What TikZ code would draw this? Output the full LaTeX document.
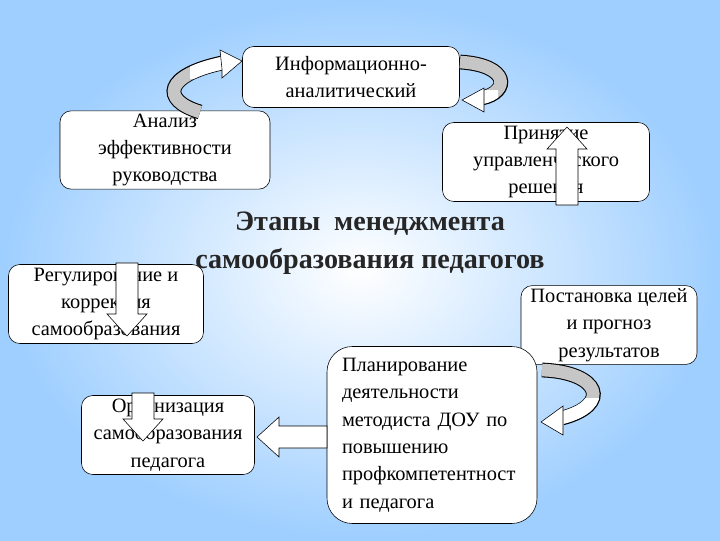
\documentclass[tikz,border=0pt]{standalone}
\usepackage{fontspec}
\setmainfont{Liberation Serif}
\tikzset{
  stage/.style={draw, rounded corners=8pt, fill=white, align=center, font=\fontsize{14.5}{19.5}\selectfont, inner sep=2pt},
  ribbon/.style={line width=9pt},
  ribbonedge/.style={line width=10.5pt, black}
}
% tail x, tail y, angle, length
\newcommand{\fatarrow}[4]{%
  \filldraw[fill=white, shift={(#1,#2)}, rotate=#3] (0,-11) -- (#4-22,-11) -- (#4-22,-20) -- (#4,0) -- (#4-22,20) -- (#4-22,11) -- (0,11) -- cycle;}
\begin{document}
\begin{tikzpicture}[x=0.025cm, y=-0.025cm]
\shade[inner color=white, outer color=cyan!50!blue!38] (0,0) rectangle (720,540);
\useasboundingbox (0,0) rectangle (720,540);

% stages
\node[stage, minimum width=217*0.025cm, minimum height=61*0.025cm] (info) at (351,77) {Информационно-\\аналитический};
\node[stage, minimum width=210*0.025cm, minimum height=75*0.025cm] (anal) at (165,150) {Анализ\\эффективности\\руководства};
\node[stage, minimum width=207*0.025cm, minimum height=79*0.025cm] (reshen) at (546,162) {Принятие\\управленческого\\решения};
\node[stage, minimum width=176*0.025cm, minimum height=78*0.025cm] (celi) at (609,325) {Постановка целей\\и прогноз\\результатов};
\node[stage, rounded corners=18pt, align=left, minimum width=210*0.025cm, minimum height=177*0.025cm, text width=180*0.025cm] (plan) at (432,435) {Планирование\\деятельности\\методиста ДОУ по\\повышению\\профкомпетентност\\и педагога};
\node[stage, minimum width=173*0.025cm, minimum height=79*0.025cm] (org) at (168,435) {Организация\\самообразования\\педагога};
\node[stage, minimum width=195*0.025cm, minimum height=79*0.025cm] (reg) at (106,304) {Регулирование и\\коррекция\\самообразования};

\node[font=\fontsize{20}{27}\selectfont\bfseries, align=center, text=black!85] (title) at (370,243) {Этапы \ менеджмента\\самообразования педагогов};

% block arrows
\fatarrow{127}{263}{-90}{73}
\fatarrow{143}{393}{-90}{48}
\fatarrow{327}{437}{180}{70}
\fatarrow{567}{205}{90}{78}

% curved arrows
\draw[ribbonedge] (200,112) .. controls (160,100) and (165,75) .. (222,63);
\draw[ribbon, gray!45] (200,112) .. controls (160,100) and (165,75) .. (223,63);
\begin{scope}
\clip (190,40) rectangle (245,78);
\draw[ribbon, white] (200,112) .. controls (160,100) and (165,75) .. (223,63);
\end{scope}
\filldraw[fill=white] (220,50) -- (242,61) -- (222,78) -- (222,69) -- cycle;

\draw[ribbonedge] (460,62) .. controls (510,65) and (510,92) .. (482,98);
\draw[ribbon, gray!45] (460,62) .. controls (510,65) and (510,92) .. (481,98);
\begin{scope}
\clip (470,90) rectangle (498,115);
\draw[ribbon, white] (460,62) .. controls (510,65) and (510,92) .. (481,98);
\end{scope}
\filldraw[fill=white] (484,88) -- (462,100) -- (484,112) -- (484,104) -- cycle;

\draw[ribbonedge] (542,370) .. controls (600,372) and (612,405) .. (562,418);
\draw[ribbon, gray!45] (542,370) .. controls (600,372) and (612,405) .. (561,418);
\begin{scope}
\clip (545,398) rectangle (620,440);
\draw[ribbon, white] (542,370) .. controls (600,372) and (612,405) .. (561,418);
\end{scope}
\filldraw[fill=white] (563,406) -- (541,422) -- (563,435) -- (563,425) -- cycle;
\end{tikzpicture}
\end{document}
